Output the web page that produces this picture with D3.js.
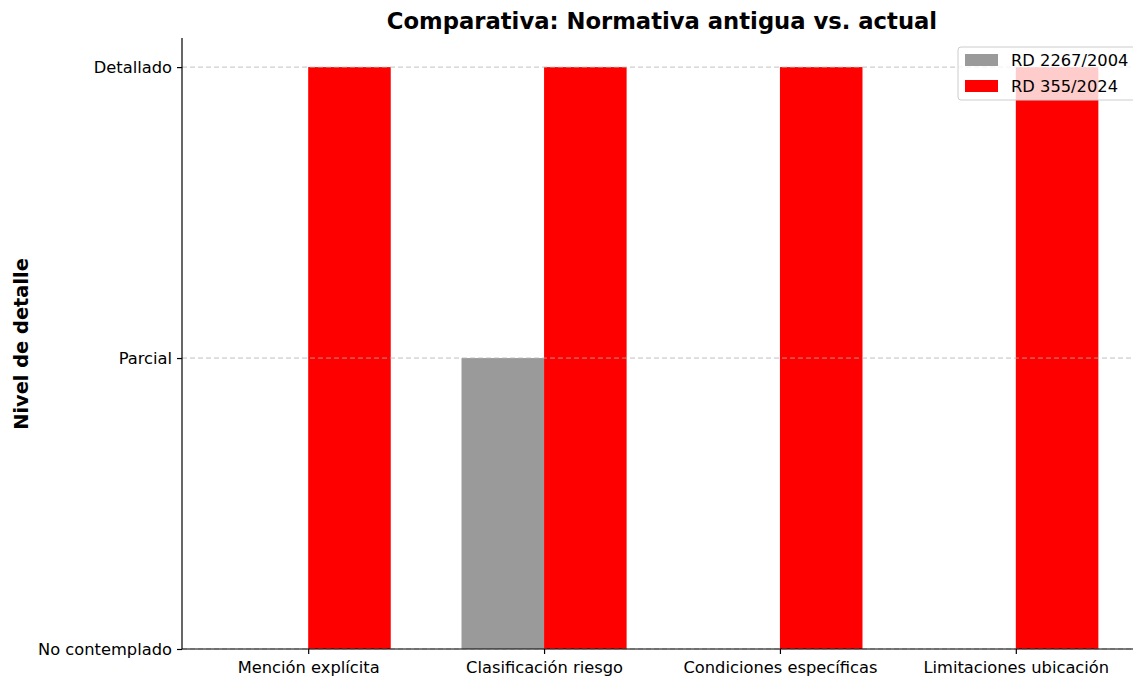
<!DOCTYPE html>
<html>
<head>
<meta charset="utf-8">
<script src="https://cdn.jsdelivr.net/npm/d3@7"></script>
<style>
  body { margin: 0; background: #fff; }
  svg { display: block; }
</style>
</head>
<body>
<svg id="chart" width="1133" height="677"></svg>
<script>
const categories = ['Mención explícita', 'Clasificación riesgo', 'Condiciones específicas', 'Limitaciones ubicación']
const seriesNames = ['RD 2267/2004', 'RD 355/2024']
const oldValues = [0, 1, 0, 0]
const newValues = [2, 2, 2, 2]
const levelLabels = ['No contemplado', 'Parcial', 'Detallado']
const colors = ['#9a9a9a', '#ff0000']

const svg = d3.select('#chart')
const plotLeft = 182, plotRight = 1142, plotTop = 38, plotBottom = 649
const barWidth = 0.35
const font = "'DejaVu Sans', Verdana, sans-serif"

const x = d3.scaleLinear().domain([-0.535, 3.535]).range([plotLeft, plotRight])
const y = d3.scaleLinear().domain([0, 2.1]).range([plotBottom, plotTop])

// bars
const series = [oldValues, newValues]
series.forEach((vals, s) => {
  svg.append('g').selectAll('rect')
    .data(vals)
    .join('rect')
    .attr('x', (d, i) => x(i + (s === 0 ? -barWidth : 0)))
    .attr('width', x(barWidth) - x(0))
    .attr('y', d => y(d))
    .attr('height', d => y(0) - y(d))
    .style('fill', colors[s])
})

// grid (drawn on top, like the original)
svg.append('g').selectAll('line')
  .data(d3.range(levelLabels.length))
  .join('line')
  .attr('x1', plotLeft).attr('x2', plotRight)
  .attr('y1', d => y(d)).attr('y2', d => y(d))
  .style('stroke', '#b0b0b0')
  .style('stroke-opacity', 0.8)
  .style('stroke-dasharray', '5,3')
  .style('stroke-width', 1)

// y axis
const yAxis = svg.append('g')
  .attr('transform', `translate(${plotLeft},0)`)
  .call(d3.axisLeft(y).tickValues(d3.range(levelLabels.length)).tickFormat(d => levelLabels[d]).tickSize(5).tickPadding(5))
yAxis.select('.domain').attr('d', `M0,${plotTop}V${plotBottom}`).style('stroke', '#000').style('stroke-width', 1.2)
yAxis.selectAll('.tick line').style('stroke', '#000').style('stroke-width', 1.2)
yAxis.selectAll('.tick text').style('font-family', font).style('font-size', '16.3px').style('fill', '#000')

// x axis
const xAxis = svg.append('g')
  .attr('transform', `translate(0,${plotBottom})`)
  .call(d3.axisBottom(x).tickValues(d3.range(categories.length)).tickFormat(d => categories[d]).tickSize(5).tickPadding(7))
xAxis.select('.domain').attr('d', `M${plotLeft},0H${plotRight}`).style('stroke', '#000').style('stroke-width', 1.2)
xAxis.selectAll('.tick line').style('stroke', '#000').style('stroke-width', 1.2)
xAxis.selectAll('.tick text').style('font-family', font).style('font-size', '16.3px').style('fill', '#000')

// title
svg.append('text')
  .text('Comparativa: Normativa antigua vs. actual')
  .attr('x', 662)
  .attr('y', 29)
  .attr('text-anchor', 'middle')
  .style('font-family', font)
  .style('font-weight', 'bold')
  .style('font-size', '22.7px')

// y label
svg.append('text')
  .text('Nivel de detalle')
  .attr('transform', `translate(28,${344}) rotate(-90)`)
  .attr('text-anchor', 'middle')
  .style('font-family', font)
  .style('font-weight', 'bold')
  .style('font-size', '19.4px')

// legend
const legend = svg.append('g').attr('transform', 'translate(958,47)')
legend.append('rect')
  .attr('width', 185).attr('height', 53)
  .attr('rx', 3).attr('ry', 3)
  .style('fill', 'white').style('fill-opacity', 0.8)
  .style('stroke', '#cccccc').style('stroke-width', 1)
seriesNames.forEach((name, i) => {
  legend.append('rect')
    .attr('x', 7).attr('y', 7 + i * 26)
    .attr('width', 33).attr('height', 12)
    .style('fill', colors[i])
  legend.append('text')
    .text(name)
    .attr('x', 53).attr('y', 19 + i * 26)
    .style('font-family', font)
    .style('font-size', '16.3px')
})
</script>
</body>
</html>
